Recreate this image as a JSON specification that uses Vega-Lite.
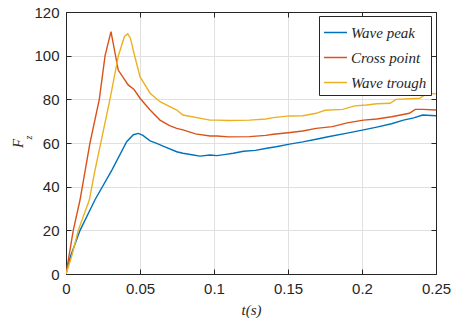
{
  "$schema": "https://vega.github.io/schema/vega-lite/v6.json",
  "width": 370,
  "height": 262,
  "autosize": {"type": "none"},
  "padding": {"left": 66, "top": 12, "right": 17, "bottom": 52},
  "background": "white",
  "config": {
    "view": {"stroke": null},
    "axis": {
      "labelFont": "Liberation Sans",
      "labelFontSize": 15,
      "labelColor": "#262626",
      "domainColor": "#262626",
      "domainWidth": 1,
      "tickColor": "#262626",
      "tickSize": -5,
      "gridColor": "#e0e0e0",
      "gridWidth": 1,
      "titleFont": "Liberation Serif",
      "titleFontStyle": "italic",
      "titleFontWeight": "normal",
      "titleFontSize": 15,
      "titleColor": "#262626"
    },
    "legend": {
      "labelFont": "Liberation Serif",
      "labelFontStyle": "italic",
      "labelFontSize": 15,
      "labelColor": "#262626",
      "symbolType": "stroke",
      "symbolSize": 529,
      "symbolStrokeWidth": 1.5,
      "labelOffset": 3,
      "rowPadding": 4,
      "padding": 4,
      "strokeColor": "#262626",
      "fillColor": "white",
      "orient": "none",
      "legendX": 253,
      "legendY": 4,
      "title": null
    }
  },
  "data": {
    "values": [
      {"t": 0, "F": 0, "s": "Wave peak"},
      {"t": 0.003, "F": 8, "s": "Wave peak"},
      {"t": 0.0095, "F": 20, "s": "Wave peak"},
      {"t": 0.0196, "F": 34, "s": "Wave peak"},
      {"t": 0.031, "F": 47.6, "s": "Wave peak"},
      {"t": 0.041, "F": 60.6, "s": "Wave peak"},
      {"t": 0.0455, "F": 63.8, "s": "Wave peak"},
      {"t": 0.0489, "F": 64.4, "s": "Wave peak"},
      {"t": 0.052, "F": 63.5, "s": "Wave peak"},
      {"t": 0.0568, "F": 61, "s": "Wave peak"},
      {"t": 0.0613, "F": 59.8, "s": "Wave peak"},
      {"t": 0.066, "F": 58.5, "s": "Wave peak"},
      {"t": 0.0748, "F": 56, "s": "Wave peak"},
      {"t": 0.079, "F": 55.3, "s": "Wave peak"},
      {"t": 0.085, "F": 54.6, "s": "Wave peak"},
      {"t": 0.0905, "F": 54, "s": "Wave peak"},
      {"t": 0.0973, "F": 54.5, "s": "Wave peak"},
      {"t": 0.102, "F": 54.2, "s": "Wave peak"},
      {"t": 0.108, "F": 54.8, "s": "Wave peak"},
      {"t": 0.113, "F": 55.3, "s": "Wave peak"},
      {"t": 0.12, "F": 56.2, "s": "Wave peak"},
      {"t": 0.128, "F": 56.6, "s": "Wave peak"},
      {"t": 0.1356, "F": 57.6, "s": "Wave peak"},
      {"t": 0.142, "F": 58.3, "s": "Wave peak"},
      {"t": 0.151, "F": 59.5, "s": "Wave peak"},
      {"t": 0.16, "F": 60.5, "s": "Wave peak"},
      {"t": 0.169, "F": 61.7, "s": "Wave peak"},
      {"t": 0.178, "F": 63, "s": "Wave peak"},
      {"t": 0.19, "F": 64.5, "s": "Wave peak"},
      {"t": 0.201, "F": 66, "s": "Wave peak"},
      {"t": 0.21, "F": 67.3, "s": "Wave peak"},
      {"t": 0.22, "F": 68.8, "s": "Wave peak"},
      {"t": 0.228, "F": 70.5, "s": "Wave peak"},
      {"t": 0.235, "F": 71.5, "s": "Wave peak"},
      {"t": 0.241, "F": 72.8, "s": "Wave peak"},
      {"t": 0.25, "F": 72.5, "s": "Wave peak"},

      {"t": 0, "F": 0, "s": "Cross point"},
      {"t": 0.0049, "F": 20, "s": "Cross point"},
      {"t": 0.0095, "F": 34, "s": "Cross point"},
      {"t": 0.0162, "F": 60, "s": "Cross point"},
      {"t": 0.0225, "F": 80, "s": "Cross point"},
      {"t": 0.0264, "F": 100, "s": "Cross point"},
      {"t": 0.0304, "F": 111, "s": "Cross point"},
      {"t": 0.0353, "F": 93.4, "s": "Cross point"},
      {"t": 0.042, "F": 86.6, "s": "Cross point"},
      {"t": 0.046, "F": 84.5, "s": "Cross point"},
      {"t": 0.05, "F": 80.5, "s": "Cross point"},
      {"t": 0.0568, "F": 75.1, "s": "Cross point"},
      {"t": 0.0635, "F": 70.5, "s": "Cross point"},
      {"t": 0.07, "F": 68, "s": "Cross point"},
      {"t": 0.0748, "F": 66.7, "s": "Cross point"},
      {"t": 0.079, "F": 66, "s": "Cross point"},
      {"t": 0.0875, "F": 64.2, "s": "Cross point"},
      {"t": 0.0973, "F": 63.2, "s": "Cross point"},
      {"t": 0.102, "F": 63.2, "s": "Cross point"},
      {"t": 0.11, "F": 62.8, "s": "Cross point"},
      {"t": 0.124, "F": 62.9, "s": "Cross point"},
      {"t": 0.135, "F": 63.5, "s": "Cross point"},
      {"t": 0.14, "F": 64, "s": "Cross point"},
      {"t": 0.15, "F": 64.7, "s": "Cross point"},
      {"t": 0.16, "F": 65.5, "s": "Cross point"},
      {"t": 0.169, "F": 66.7, "s": "Cross point"},
      {"t": 0.18, "F": 67.5, "s": "Cross point"},
      {"t": 0.19, "F": 69.2, "s": "Cross point"},
      {"t": 0.201, "F": 70.5, "s": "Cross point"},
      {"t": 0.21, "F": 71, "s": "Cross point"},
      {"t": 0.22, "F": 72, "s": "Cross point"},
      {"t": 0.232, "F": 73.6, "s": "Cross point"},
      {"t": 0.236, "F": 75.4, "s": "Cross point"},
      {"t": 0.241, "F": 75.4, "s": "Cross point"},
      {"t": 0.25, "F": 75.1, "s": "Cross point"},

      {"t": 0, "F": 0, "s": "Wave trough"},
      {"t": 0.0038, "F": 8, "s": "Wave trough"},
      {"t": 0.0083, "F": 20, "s": "Wave trough"},
      {"t": 0.0158, "F": 34, "s": "Wave trough"},
      {"t": 0.0196, "F": 47.6, "s": "Wave trough"},
      {"t": 0.0297, "F": 80, "s": "Wave trough"},
      {"t": 0.0354, "F": 100, "s": "Wave trough"},
      {"t": 0.0395, "F": 108.8, "s": "Wave trough"},
      {"t": 0.0417, "F": 110, "s": "Wave trough"},
      {"t": 0.0435, "F": 108, "s": "Wave trough"},
      {"t": 0.046, "F": 101, "s": "Wave trough"},
      {"t": 0.05, "F": 90.4, "s": "Wave trough"},
      {"t": 0.0568, "F": 82.8, "s": "Wave trough"},
      {"t": 0.0635, "F": 78.9, "s": "Wave trough"},
      {"t": 0.0748, "F": 75.1, "s": "Wave trough"},
      {"t": 0.079, "F": 72.8, "s": "Wave trough"},
      {"t": 0.0973, "F": 70.5, "s": "Wave trough"},
      {"t": 0.102, "F": 70.5, "s": "Wave trough"},
      {"t": 0.11, "F": 70.3, "s": "Wave trough"},
      {"t": 0.124, "F": 70.5, "s": "Wave trough"},
      {"t": 0.135, "F": 71, "s": "Wave trough"},
      {"t": 0.14, "F": 71.6, "s": "Wave trough"},
      {"t": 0.151, "F": 72.4, "s": "Wave trough"},
      {"t": 0.16, "F": 72.5, "s": "Wave trough"},
      {"t": 0.169, "F": 73.6, "s": "Wave trough"},
      {"t": 0.175, "F": 75, "s": "Wave trough"},
      {"t": 0.187, "F": 75.4, "s": "Wave trough"},
      {"t": 0.195, "F": 77, "s": "Wave trough"},
      {"t": 0.203, "F": 77.4, "s": "Wave trough"},
      {"t": 0.21, "F": 78, "s": "Wave trough"},
      {"t": 0.219, "F": 78.2, "s": "Wave trough"},
      {"t": 0.223, "F": 80, "s": "Wave trough"},
      {"t": 0.239, "F": 80.5, "s": "Wave trough"},
      {"t": 0.244, "F": 82.8, "s": "Wave trough"},
      {"t": 0.25, "F": 82.5, "s": "Wave trough"}
    ]
  },
  "layer": [
    {
      "mark": {"type": "line", "strokeWidth": 1.4, "clip": true},
      "encoding": {
        "x": {
          "field": "t", "type": "quantitative",
          "scale": {"domain": [0, 0.25], "nice": false, "zero": false},
          "axis": {
            "orient": "bottom",
            "values": [0, 0.05, 0.1, 0.15, 0.2, 0.25],
            "format": "~g",
            "title": "t(s)",
            "labelPadding": 12,
            "titlePadding": 6,
            "labelFlush": false
          }
        },
        "y": {
          "field": "F", "type": "quantitative",
          "scale": {"domain": [0, 120], "nice": false},
          "axis": {
            "orient": "left",
            "values": [0, 20, 40, 60, 80, 100, 120],
            "title": "F",
            "titleX": -49,
            "titleY": 131,
            "titleAngle": -90,
            "titleAlign": "center",
            "titleBaseline": "middle",
            "labelPadding": 12
          }
        },
        "color": {
          "field": "s", "type": "nominal",
          "scale": {"domain": ["Wave peak", "Cross point", "Wave trough"], "range": ["#0072BD", "#D95319", "#EDB120"]},
          "legend": {}
        },
        "order": {"field": "t", "type": "quantitative"}
      }
    },
    {
      "mark": {"type": "line", "opacity": 0},
      "encoding": {
        "x": {
          "field": "t", "type": "quantitative",
          "axis": {"orient": "top", "values": [0, 0.05, 0.1, 0.15, 0.2, 0.25], "labels": false, "grid": false, "title": null}
        },
        "y": {
          "field": "F", "type": "quantitative",
          "axis": {"orient": "right", "values": [0, 20, 40, 60, 80, 100, 120], "labels": false, "grid": false, "title": null}
        },
        "detail": {"field": "s", "type": "nominal"}
      }
    },
    {
      "mark": {"type": "line", "opacity": 0},
      "encoding": {
        "y": {
          "field": "F", "type": "quantitative",
          "axis": {
            "orient": "left", "labels": false, "ticks": false, "domain": false, "grid": false,
            "title": "z", "titleFontSize": 10,
            "titleX": -38, "titleY": 125, "titleAngle": -90,
            "titleAlign": "center", "titleBaseline": "middle"
          }
        },
        "x": {"field": "t", "type": "quantitative", "axis": null},
        "detail": {"field": "s", "type": "nominal"}
      }
    }
  ],
  "resolve": {"axis": {"x": "independent", "y": "independent"}}
}
